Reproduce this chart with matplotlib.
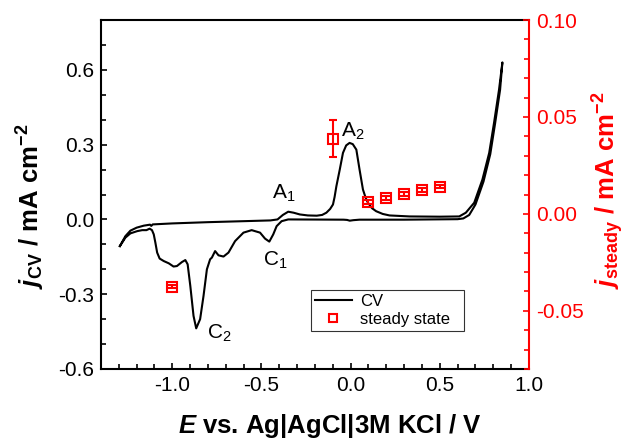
import matplotlib
matplotlib.use("Agg")
import matplotlib.pyplot as plt
from matplotlib.ticker import MultipleLocator, FormatStrFormatter
from matplotlib.lines import Line2D

plt.rcParams['font.family'] = ['Liberation Sans', 'DejaVu Sans']
plt.rcParams['mathtext.fontset'] = 'custom'
plt.rcParams['mathtext.rm'] = 'Liberation Sans'
plt.rcParams['mathtext.it'] = 'Liberation Sans:italic'
plt.rcParams['mathtext.bf'] = 'Liberation Sans:bold'
plt.rcParams['mathtext.bfit'] = 'Liberation Sans:bold:italic'

# CV curve: forward (anodic) scan then reverse scan
cv_E = [-1.294, -1.263, -1.235, -1.200, -1.160, -1.125, -1.118, -1.110, -1.000, -0.800, -0.600,
        -0.450, -0.410, -0.380, -0.350, -0.320, -0.285, -0.240, -0.190, -0.160, -0.136,
        -0.115, -0.099, -0.090, -0.080, -0.061, -0.043, -0.025, -0.006, 0.012, 0.032,
        0.050, 0.069, 0.085, 0.097, 0.120, 0.143, 0.180, 0.218, 0.330, 0.500, 0.609,
        0.646, 0.693, 0.739, 0.777, 0.804, 0.832, 0.851,
        0.838, 0.810, 0.783, 0.745, 0.700, 0.665, 0.632, 0.600, 0.300, 0.050, 0.015,
        -0.005, -0.020, -0.040, -0.350, -0.387, -0.415, -0.434, -0.456, -0.480, -0.508,
        -0.555, -0.601, -0.648, -0.685, -0.713, -0.741, -0.760, -0.778, -0.788, -0.806,
        -0.825, -0.844, -0.866, -0.881, -0.899, -0.914, -0.927, -0.946, -0.974, -0.993,
        -1.020, -1.048, -1.071, -1.085, -1.095, -1.104, -1.114, -1.127, -1.145, -1.169,
        -1.197, -1.235, -1.263, -1.294]
cv_j = [-0.107, -0.067, -0.045, -0.033, -0.025, -0.021, -0.026, -0.020, -0.016, -0.011, -0.007,
        -0.004, 0.000, 0.018, 0.031, 0.027, 0.020, 0.016, 0.015, 0.018, 0.027,
        0.042, 0.060, 0.090, 0.133, 0.200, 0.267, 0.297, 0.307, 0.302, 0.280,
        0.200, 0.120, 0.085, 0.067, 0.045, 0.033, 0.022, 0.016, 0.012, 0.011, 0.012,
        0.027, 0.067, 0.160, 0.267, 0.387, 0.520, 0.630,
        0.520, 0.385, 0.262, 0.152, 0.060, 0.018, 0.004, 0.001, -0.001, -0.001, -0.003,
        -0.005, -0.002, -0.001, 0.000, -0.007, -0.027, -0.060, -0.089, -0.077, -0.053,
        -0.043, -0.053, -0.087, -0.133, -0.149, -0.144, -0.127, -0.153, -0.160, -0.200,
        -0.307, -0.400, -0.437, -0.387, -0.267, -0.180, -0.163, -0.171, -0.187, -0.189,
        -0.176, -0.167, -0.157, -0.133, -0.093, -0.060, -0.043, -0.037, -0.043, -0.043,
        -0.047, -0.056, -0.073, -0.107]

# steady-state current (right axis)
ss_E = [-1.0, -0.1, 0.1, 0.2, 0.3, 0.4, 0.5]
ss_j = [-0.0376, 0.0387, 0.0063, 0.0083, 0.0103, 0.0124, 0.0141]
ss_err = [0.0007, 0.0095, 0.0010, 0.0010, 0.0010, 0.0010, 0.0010]

peak_labels = [r'$\mathregular{A_1}$', r'$\mathregular{A_2}$', r'$\mathregular{C_1}$', r'$\mathregular{C_2}$']
peak_E = [-0.441, -0.052, -0.490, -0.806]
peak_j = [0.082, 0.333, -0.187, -0.480]

red = '#ff0000'
fig = plt.figure(figsize=(6.26, 4.40), dpi=100)
ax = fig.add_axes([0.1613, 0.1614, 0.6837, 0.7931])
ax2 = ax.twinx()

line, = ax.plot(cv_E, cv_j, color='black', lw=1.5, label='CV')
ax2.errorbar(ss_E, ss_j, yerr=ss_err, fmt='s', ms=7, mfc='none', mec=red, mew=1.5,
             ecolor=red, elinewidth=1.5, capsize=3, capthick=1.5)

ax.set_xlim(-1.4, 1.0)
ax.set_ylim(-0.6, 0.8)
ax2.set_ylim(-0.08, 0.10)

ax.xaxis.set_major_locator(MultipleLocator(0.5))
ax.xaxis.set_minor_locator(MultipleLocator(0.1))
ax.xaxis.set_major_formatter(FormatStrFormatter('%.1f'))
ax.yaxis.set_major_locator(MultipleLocator(0.3))
ax.yaxis.set_minor_locator(MultipleLocator(0.1))
ax.yaxis.set_major_formatter(FormatStrFormatter('%.1f'))
ax2.yaxis.set_major_locator(MultipleLocator(0.05))
ax2.yaxis.set_minor_locator(MultipleLocator(0.01))
ax2.yaxis.set_major_formatter(FormatStrFormatter('%.2f'))

ax.tick_params(which='both', direction='in', top=False, right=False, width=1.2, labelsize=15, pad=5)
ax.tick_params(which='major', length=4.5)
ax.tick_params(which='minor', length=3.5)
ax2.tick_params(which='both', direction='in', colors=red, width=1.2, labelsize=15, pad=5)
ax2.tick_params(which='major', length=4.5)
ax2.tick_params(which='minor', length=3.5)

for s in ['left', 'bottom', 'top']:
    ax.spines[s].set_linewidth(1.5)
for s in ['left', 'bottom', 'top']:
    ax2.spines[s].set_visible(False)
ax.spines['right'].set_visible(False)
ax2.spines['right'].set_color(red)
ax2.spines['right'].set_linewidth(1.5)

ax.set_xlabel(r'$\mathbfit{E}$ vs. Ag|AgCl|3M KCl / V', fontsize=18.5, fontweight='bold')
ax.xaxis.set_label_coords(0.535, -0.122)
ax.set_ylabel(r'$\mathbfit{j}_{\mathbf{CV}}$ / mA cm$^{\mathbf{-2}}$', fontsize=18.5, fontweight='bold')
ax.yaxis.set_label_coords(-0.125, 0.465)
ax2.set_ylabel(r'$\mathbfit{j}_{\mathbf{steady}}$ / mA cm$^{\mathbf{-2}}$', fontsize=18.5,
               fontweight='bold', color=red)
ax2.yaxis.set_label_coords(1.143, 0.513)

for lab, e, j in zip(peak_labels, peak_E, peak_j):
    ax.text(e, j, lab, fontsize=15, ha='left', va='baseline')

ss_handle = Line2D([], [], ls='none', marker='s', ms=6, mfc='none', mec=red, mew=1.5)
leg = ax.legend([line, ss_handle], ['CV', 'steady state'], loc='lower left',
                bbox_to_anchor=(0.49, 0.109, 0.359, 0.122),
                mode='expand', fontsize=12, frameon=True, fancybox=False, edgecolor='black',
                borderpad=0.25, labelspacing=0.15, handlelength=2.2, handletextpad=0.5, borderaxespad=0)
leg.get_frame().set_linewidth(0.8)

fig.savefig('out.png', dpi=100)
